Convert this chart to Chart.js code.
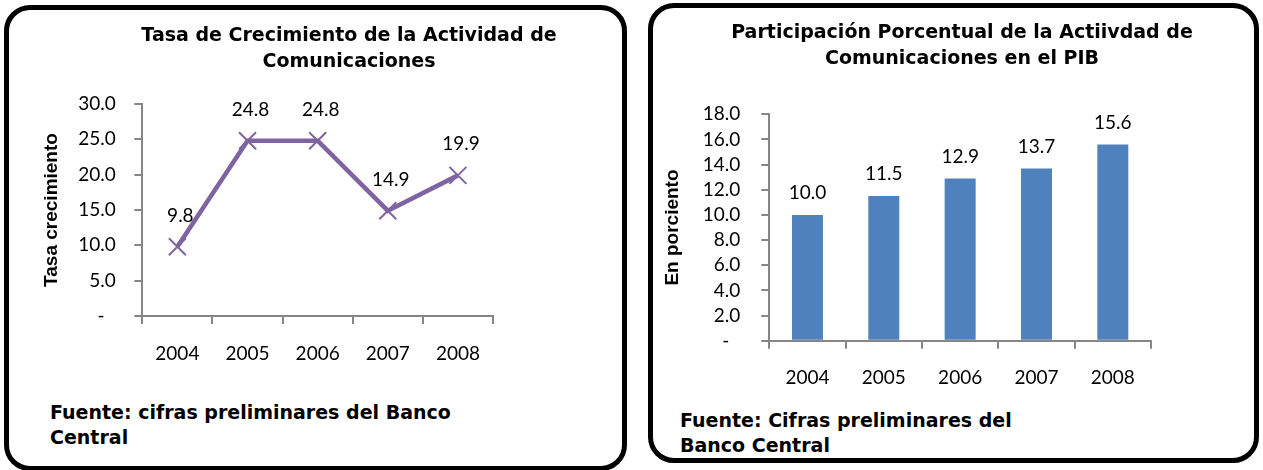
<!DOCTYPE html>
<html lang="es">
<head>
<meta charset="utf-8">
<title>Actividad de Comunicaciones</title>
<script src="https://cdn.jsdelivr.net/npm/chart.js@4.4.1/dist/chart.umd.min.js"></script>
<style>
  html, body { margin: 0; padding: 0; background: #fff; overflow: hidden; }
  body { width: 1263px; height: 470px; position: relative; }
  .panel { position: absolute; box-sizing: border-box; border: 5px solid #000; border-radius: 26px; }
  canvas { position: absolute; }
  .fuente { position: absolute; font: bold 19px 'DejaVu Sans', sans-serif; line-height: 25px; white-space: nowrap; color: #000; }
</style>
</head>
<body>
<div class="panel" style="left:4px; top:5px; width:623px; height:466px;"></div>
<div class="panel" style="left:648px; top:3px; width:611px; height:460px;"></div>

<canvas id="graficoCrecimiento" width="678" height="380" style="left:10px; top:0px;"></canvas>
<canvas id="graficoParticipacion" width="602" height="405" style="left:661px; top:0px;"></canvas>

<div class="fuente" style="left:50px; top:400px;">Fuente: cifras preliminares del Banco<br>Central</div>
<div class="fuente" style="left:680px; top:408px;">Fuente: Cifras preliminares del<br>Banco Central</div>

<script>
// datos
const anios = ['2004', '2005', '2006', '2007', '2008'];
const tasaCrecimiento = [9.8, 24.8, 24.8, 14.9, 19.9];
const participacionPib = [10.0, 11.5, 12.9, 13.7, 15.6];
const ticksCrecimiento = ['-', '5.0', '10.0', '15.0', '20.0', '25.0', '30.0'];
const ticksParticipacion = ['-', '2.0', '4.0', '6.0', '8.0', '10.0', '12.0', '14.0', '16.0', '18.0'];

const GRIS = '#868686';
const NUMEROS = { family: 'Lato, "Liberation Sans", sans-serif', size: 19 };

// escribe el valor encima de cada punto / barra
const etiquetasValor = {
  id: 'etiquetasValor',
  afterDatasetsDraw(chart, args, opts) {
    const ctx = chart.ctx;
    const valores = chart.data.datasets[0].data;
    ctx.save();
    ctx.font = NUMEROS.size + 'px ' + NUMEROS.family;
    ctx.fillStyle = '#000';
    ctx.textAlign = 'center';
    ctx.textBaseline = 'middle';
    chart.getDatasetMeta(0).data.forEach((el, i) => {
      ctx.fillText(valores[i].toFixed(1), el.x + (opts.dx || 0), el.y - opts.dy);
    });
    ctx.restore();
  }
};

function ejeX(alto) {
  return {
    offset: true,
    grid: { offset: true, drawOnChartArea: false, drawTicks: true, tickLength: 8, color: GRIS, lineWidth: 2 },
    border: { color: GRIS, width: 2 },
    ticks: { color: '#000', font: NUMEROS, padding: 18, maxRotation: 0 },
    afterFit: (scale) => { scale.height = alto; }
  };
}

function ejeY(max, paso, etiquetas, ancho, titulo, separacion, margenTitulo) {
  return {
    min: 0,
    max: max,
    grid: { drawOnChartArea: false, drawTicks: true, tickLength: 8, color: GRIS, lineWidth: 2 },
    border: { color: GRIS, width: 2 },
    ticks: {
      stepSize: paso,
      autoSkip: false,
      color: '#000',
      font: NUMEROS,
      padding: separacion,
      callback: (v, i) => i === 0 ? etiquetas[i] + '\u2007' : etiquetas[i]
    },
    title: {
      display: true,
      text: titulo,
      color: '#000',
      padding: { top: margenTitulo, bottom: 0 },
      font: { family: '"Liberation Sans", Arial, sans-serif', size: 19, weight: 'bold' }
    },
    afterFit: (scale) => { scale.width = ancho; }
  };
}

// eje vacío a la derecha: deja el hueco sin descentrar el título
function ejeVacio(ancho) {
  return {
    position: 'right',
    grid: { display: false },
    border: { display: false },
    ticks: { display: false },
    afterFit: (scale) => { scale.width = ancho; }
  };
}

function titulo(lineas, arriba, abajo) {
  return {
    display: true,
    text: lineas,
    color: '#000',
    padding: { top: arriba, bottom: abajo },
    font: { family: '"DejaVu Sans", sans-serif', size: 19, weight: 'bold', lineHeight: 26 / 19 }
  };
}

function crearGraficos() {
  new Chart(document.getElementById('graficoCrecimiento'), {
    type: 'line',
    data: {
      labels: anios,
      datasets: [{
        data: tasaCrecimiento,
        borderColor: '#8064A2',
        borderWidth: 4.5,
        tension: 0,
        pointStyle: 'crossRot',
        pointRadius: 12,
        pointBorderWidth: 2,
        pointBorderColor: '#8064A2',
        pointBackgroundColor: '#8064A2'
      }]
    },
    options: {
      responsive: false,
      animation: false,
      layout: { padding: 0 },
      plugins: {
        legend: { display: false },
        tooltip: { enabled: false },
        title: titulo(['Tasa de Crecimiento de la Actividad de', 'Comunicaciones'], 22.7, 29.3),
        etiquetasValor: { dy: 31, dx: 3 }
      },
      scales: {
        x: ejeX(64),
        y: ejeY(30, 5, ticksCrecimiento, 132.3, 'Tasa crecimiento', 18.6, 30.6),
        derecha: ejeVacio(195)
      }
    },
    plugins: [etiquetasValor]
  });

  new Chart(document.getElementById('graficoParticipacion'), {
    type: 'bar',
    data: {
      labels: anios,
      datasets: [{
        data: participacionPib,
        backgroundColor: '#4F81BD',
        borderWidth: 0,
        categoryPercentage: 1,
        barPercentage: 0.406
      }]
    },
    options: {
      responsive: false,
      animation: false,
      layout: { padding: 0 },
      plugins: {
        legend: { display: false },
        tooltip: { enabled: false },
        title: titulo(['Participación Porcentual de la Actiivdad de', 'Comunicaciones en el PIB'], 20, 42.3),
        etiquetasValor: { dy: 22 }
      },
      scales: {
        x: ejeX(64.3),
        y: ejeY(18, 2, ticksParticipacion, 108.3, 'En porciento', 21, 0),
        derecha: ejeVacio(112)
      }
    },
    plugins: [etiquetasValor]
  });
}

window.onload = crearGraficos;
</script>
</body>
</html>
